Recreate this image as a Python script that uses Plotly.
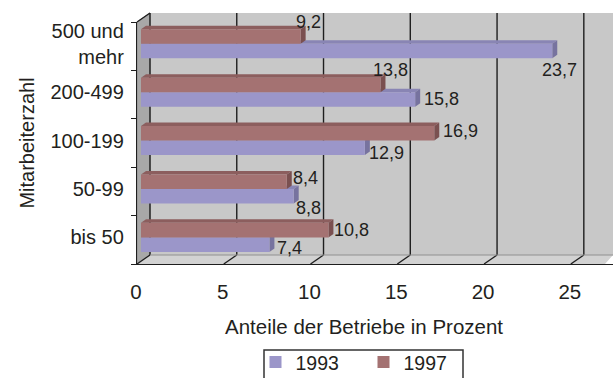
import plotly.graph_objects as go

categories = ["bis 50", "50-99", "100-199", "200-499", "500 und<br>mehr"]
values_1993 = [7.4, 8.8, 12.9, 15.8, 23.7]
values_1997 = [10.8, 8.4, 16.9, 13.8, 9.2]
labels_1993 = ["7,4", "8,8", "12,9", "15,8", "23,7"]
labels_1997 = ["10,8", "8,4", "16,9", "13,8", "9,2"]
x_ticks = [0, 5, 10, 15, 20, 25]

# label offsets in pixels (x right, y up) relative to bar end / bar centre
off_1993 = [(20, -3), (15, -12), (22, -5), (26, 0), (7, -19)]
off_1997 = [(23, 0), (19, 4), (26, 2), (10, 15), (8, 15)]

W, H = 613, 378
L, R, T, B = 137, 0, 22, 114
PW, PH = W - L - R, H - T - B
XR = [-0.23, 27.2]
YR = [-0.55, 4.45]
PXU = PW / (XR[1] - XR[0])
PYU = PH / (YR[1] - YR[0])

BLUE = "#9B96C9"
RED = "#A47272"
TXT = "#231F20"
FONT = "Liberation Sans, Arial, sans-serif"

def px(x, y):
    return ((x - L) / PW, (T + PH - y) / PH)

shapes = []
def poly(pts, fill, line=None, lw=0):
    p = [px(x, y) for x, y in pts]
    d = "M " + " L ".join(f"{a:.5f},{b:.5f}" for a, b in p) + " Z"
    shapes.append(dict(type="path", xref="paper", yref="paper", path=d,
                       fillcolor=fill, line=dict(color=line or fill, width=lw), layer="below"))

# walls
poly([(150, 13), (613, 13), (613, 255), (150, 255)], "#C8C8C8")
poly([(137, 22), (150, 13), (150, 255), (137, 264)], "#A8A8A8", "#8C8C8C", 1)
poly([(137, 264), (150, 255), (613, 255), (605, 264)], "#D2D2D2")
# gridlines (back wall + floor)
for k in x_ticks:
    shapes.append(dict(type="line", xref="x", xsizemode="pixel", xanchor=k, x0=9, x1=9,
                       yref="paper", y0=px(0, 255)[1], y1=px(0, 13)[1],
                       line=dict(color="#1E1E1E", width=1.4), layer="below"))
    shapes.append(dict(type="line", xref="x", xsizemode="pixel", xanchor=k, x0=-4, x1=9,
                       yref="paper", y0=px(0, 264)[1], y1=px(0, 255)[1],
                       line=dict(color="#1E1E1E", width=1.4), layer="below"))
shapes.append(dict(type="line", xref="paper", yref="paper", x0=px(150, 0)[0], x1=1,
                   y0=px(0, 255)[1], y1=px(0, 255)[1], line=dict(color="#909090", width=1), layer="below"))
shapes.append(dict(type="line", xref="paper", yref="paper", x0=0, x1=px(150, 0)[0],
                   y0=px(0, 22)[1], y1=px(0, 13)[1], line=dict(color="#1E1E1E", width=1.3), layer="below"))
# legend frame
lx0, ly0 = px(264, 350)
lx1, ly1 = px(463, 392)
shapes.append(dict(type="rect", xref="paper", yref="paper", x0=lx0, x1=lx1, y0=ly1, y1=ly0,
                   line=dict(color="#333333", width=1.5), fillcolor="rgba(0,0,0,0)", layer="above"))

# 3D faces of bars
ddx, ddy = 5 / PXU, 3.5 / PYU
BW = 0.3
def faces(vals, off, top_c, end_c):
    for i, v in enumerate(vals):
        y0, y1 = i + off, i + off + BW
        shapes.append(dict(type="path", xref="x", yref="y", layer="below",
                           path=f"M 0,{y1} L {v},{y1} L {v+ddx},{y1+ddy} L {ddx},{y1+ddy} Z",
                           fillcolor=top_c, line=dict(width=0)))
        shapes.append(dict(type="path", xref="x", yref="y", layer="below",
                           path=f"M {v},{y0} L {v},{y1} L {v+ddx},{y1+ddy} L {v+ddx},{y0+ddy} Z",
                           fillcolor=end_c, line=dict(width=0)))
faces(values_1993, -BW, "#8985B4", "#77739F")
faces(values_1997, 0, "#8C5E5E", "#7A5050")

ypos = list(range(len(categories)))
fig = go.Figure()
fig.add_trace(go.Bar(y=ypos, x=values_1993, orientation="h", name="1993",
                     marker=dict(color=BLUE, line=dict(width=0)), width=BW, offset=-BW,
                     textposition="none", hoverinfo="skip"))
fig.add_trace(go.Bar(y=ypos, x=values_1997, orientation="h", name="1997",
                     marker=dict(color=RED, line=dict(width=0)), width=BW, offset=0,
                     textposition="none", hoverinfo="skip"))

ann = []
for vals, labs, offs, yc in ((values_1993, labels_1993, off_1993, -BW / 2),
                             (values_1997, labels_1997, off_1997, BW / 2)):
    for i, (v, t, (sx, sy)) in enumerate(zip(vals, labs, offs)):
        ann.append(dict(x=v, y=i + yc, text=t, xanchor="center", yanchor="middle",
                        xshift=sx, yshift=sy, xref="x", yref="y", showarrow=False,
                        font=dict(size=18, color=TXT, family=FONT)))
# x-axis title centred under the front axis
ann.append(dict(x=px(363.5, 0)[0], y=px(0, 326)[1], xref="paper", yref="paper",
                text="Anteile der Betriebe in Prozent", showarrow=False,
                xanchor="center", yanchor="middle", font=dict(size=20.5, color=TXT, family=FONT)))

fig.update_layout(
    width=W, height=H, margin=dict(l=L, r=R, t=T, b=B, autoexpand=False),
    paper_bgcolor="white", plot_bgcolor="white",
    font=dict(family=FONT, size=20.5, color=TXT),
    shapes=shapes, annotations=ann, showlegend=True,
    legend=dict(orientation="h", x=px(363.5, 0)[0], xanchor="center", y=-0.326, yanchor="top",
                borderwidth=0, font=dict(size=19.5, color=TXT),
                itemwidth=30, entrywidth=63, tracegroupgap=0, bgcolor="rgba(0,0,0,0)"),
    xaxis=dict(range=XR, tickvals=x_ticks, ticktext=[str(v) for v in x_ticks], automargin=False,
               showgrid=False, zeroline=False, showline=True, linecolor="#1E1E1E", linewidth=1.3,
               ticks="", ticklabelstandoff=9, ticklabelshift=-5, tickfont=dict(size=20.5)),
    yaxis=dict(range=YR, tickvals=ypos, ticktext=categories, showgrid=False, zeroline=False,
               automargin=False,
               showline=True, linecolor="#1E1E1E", linewidth=1.3, ticks="", ticklabelstandoff=8,
               tickfont=dict(size=20),
               minor=dict(tickvals=[i - 0.55 for i in range(6)], ticks="outside", ticklen=5,
                          tickcolor="#1E1E1E", tickwidth=1.3),
               title=dict(text="Mitarbeiterzahl", standoff=10, font=dict(size=20))),
)
fig.write_html("out.html", post_script="document.body.style.margin='0';",
               config={"displayModeBar": False})
